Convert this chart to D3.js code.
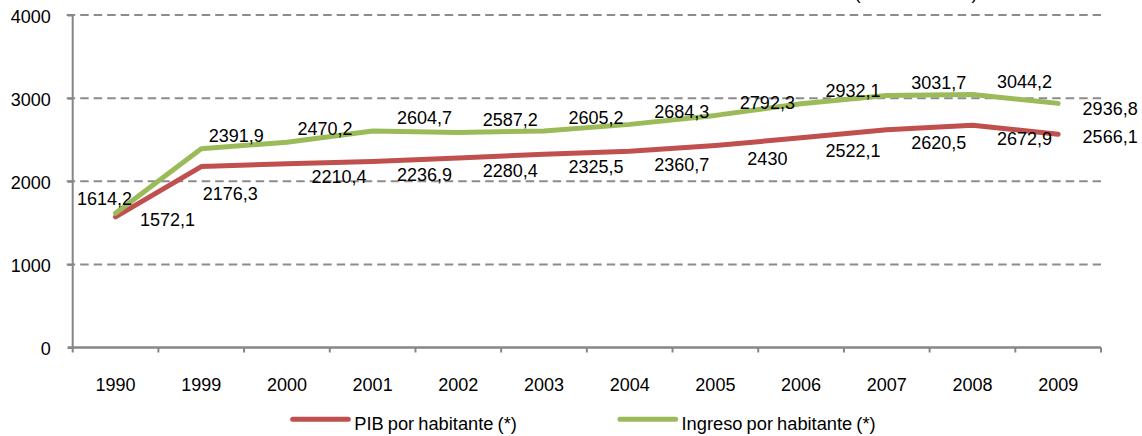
<!DOCTYPE html>
<html>
<head>
<meta charset="utf-8">
<script src="https://cdn.jsdelivr.net/npm/d3@7/dist/d3.min.js"></script>
<style>
body { margin: 0; background: #fff; }
text { font-family: "Liberation Sans", Arial, sans-serif; fill: #000; }
</style>
</head>
<body>
<div id="chart"></div>
<script>
var years = ["1990", "1999", "2000", "2001", "2002", "2003", "2004", "2005", "2006", "2007", "2008", "2009"];
var pibValues = [1572.1, 2176.3, 2210.4, 2236.9, 2280.4, 2325.5, 2360.7, 2430, 2522.1, 2620.5, 2672.9, 2566.1];
var ingresoValues = [1614.2, 2391.9, 2470.2, 2604.7, 2587.2, 2605.2, 2684.3, 2792.3, 2932.1, 3031.7, 3044.2, 2936.8];
var yTicks = [0, 1000, 2000, 3000, 4000];
var seriesNames = ["PIB por habitante (*)", "Ingreso por habitante (*)"];
var subtitle = "(Nuevos Soles)";

var width = 1142, height = 436;
//note: "top" is taken by window.top, so plot* names
var plotLeft = 72.7, plotRight = 1101, plotTop = 15, plotBottom = 347.5;
var axisColor = "#868686";
var fontSize = 18;

var svg = d3.select("#chart").append("svg")
	.attr("width", width)
	.attr("height", height);

var x = d3.scaleBand()
	.domain(years)
	.range([plotLeft, plotRight]);

var y = d3.scaleLinear()
	.domain([0, 4000])
	.range([plotBottom, plotTop]);

//title is cut at the top edge, only the bottom of the brackets shows
svg.append("text")
	.attr("x", 916)
	.attr("y", -1)
	.attr("text-anchor", "middle")
	.style("font-size", "18px")
	.text(subtitle);

//dashed grid
svg.append("g")
	.selectAll("line")
	.data(yTicks.filter(function(d) { return d > 0; }))
	.enter().append("line")
	.attr("x1", plotLeft - 6)
	.attr("x2", plotRight)
	.attr("y1", function(d) { return y(d); })
	.attr("y2", function(d) { return y(d); })
	.style("stroke", "#8c8c8c")
	.style("stroke-width", 2)
	.style("stroke-dasharray", "8.5,5");

//y axis
var yAxis = d3.axisLeft(y)
	.tickValues(yTicks)
	.tickSize(5)
	.tickPadding(17)
	.tickFormat(function(d) { return d; });

var gy = svg.append("g")
	.attr("transform", "translate(" + plotLeft + ",0)")
	.call(yAxis);
gy.select(".domain").remove();
gy.selectAll(".tick line").style("stroke", axisColor).style("stroke-width", 2);
gy.selectAll("text").style("font-size", fontSize + "px").style("font-family", "Liberation Sans, Arial, sans-serif").attr("dy", "0.4em");

svg.append("line")
	.attr("x1", plotLeft).attr("x2", plotLeft)
	.attr("y1", plotTop).attr("y2", plotBottom)
	.style("stroke", axisColor)
	.style("stroke-width", 2);

//x axis with ticks between categories
svg.append("g")
	.selectAll("line")
	.data(years.concat(["end"]))
	.enter().append("line")
	.attr("x1", function(d, i) { return plotLeft + i * x.step(); })
	.attr("x2", function(d, i) { return plotLeft + i * x.step(); })
	.attr("y1", plotBottom)
	.attr("y2", plotBottom + 5)
	.style("stroke", axisColor)
	.style("stroke-width", 2);

svg.append("line")
	.attr("x1", plotLeft - 5).attr("x2", plotRight)
	.attr("y1", plotBottom).attr("y2", plotBottom)
	.style("stroke", axisColor)
	.style("stroke-width", 2.5);

svg.append("g")
	.selectAll("text")
	.data(years)
	.enter().append("text")
	.attr("x", function(d) { return x(d) + x.bandwidth() / 2; })
	.attr("y", plotBottom + 43.5)
	.attr("text-anchor", "middle")
	.style("font-size", fontSize + "px")
	.text(function(d) { return d; });

var line = d3.line()
	.x(function(d, i) { return x(years[i]) + x.bandwidth() / 2; })
	.y(function(d) { return y(d); });

var series = [
	{ name: seriesNames[0], values: pibValues, color: "#C0504D", side: 1 },
	{ name: seriesNames[1], values: ingresoValues, color: "#9BBB59", side: -1 }
];

function fmt(v) {
	return String(v).replace(".", ",");
}

//labels sit to the right of each point, green above, red below
function labelDx(s, i) {
	if (i == 0 && s.side < 0) return -11;
	if (i == 1) return s.side < 0 ? 35 : 29;
	if (i == 2 && s.side < 0) return 38;
	return 52;
}
function labelDy(s, i) {
	if (i == 0) return s.side < 0 ? -15 : 3;
	if (i == 1 && s.side > 0) return 27;
	if (i == years.length - 1) return s.side < 0 ? 5 : 3;
	return 13 * s.side;
}

series.forEach(function(s) {
	svg.append("path")
		.datum(s.values)
		.attr("d", line)
		.style("fill", "none")
		.style("stroke", s.color)
		.style("stroke-width", 5)
		.style("stroke-linejoin", "round")
		.style("stroke-linecap", "round");
});

series.forEach(function(s) {
	svg.append("g")
		.selectAll("text")
		.data(s.values)
		.enter().append("text")
		.attr("x", function(d, i) { return x(years[i]) + x.bandwidth() / 2 + labelDx(s, i); })
		.attr("y", function(d, i) { return y(d) + labelDy(s, i); })
		.attr("dy", "0.35em")
		.attr("text-anchor", "middle")
		.style("font-size", fontSize + "px")
		.text(function(d) { return fmt(d); });
});

//legend
var legendX = [292.7, 620];
var legend = svg.append("g")
	.selectAll("g")
	.data(series)
	.enter().append("g")
	.attr("transform", function(d, i) { return "translate(" + legendX[i] + ",419.3)"; });

legend.append("line")
	.attr("x1", 0).attr("x2", 55.6)
	.attr("y1", 0).attr("y2", 0)
	.style("stroke", function(d) { return d.color; })
	.style("stroke-width", 5)
	.style("stroke-linecap", "round");

legend.append("text")
	.attr("x", 61.5)
	.attr("y", 10.4)
	.style("font-size", "18.3px")
	.style("word-spacing", "-1px")
	.text(function(d) { return d.name; });
</script>
</body>
</html>
